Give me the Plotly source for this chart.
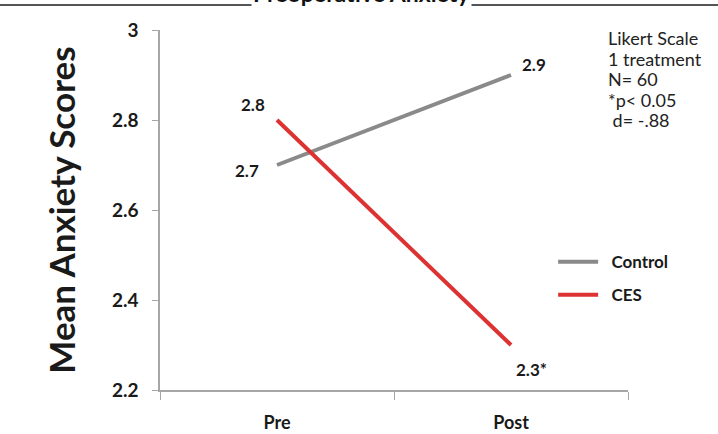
import plotly.graph_objects as go

categories = ["Pre", "Post"]
control_values = [2.7, 2.9]
ces_values = [2.8, 2.3]
control_labels = ["2.7", "2.9"]
ces_labels = ["2.8", "2.3*"]
y_ticks = [2.2, 2.4, 2.6, 2.8, 3.0]
y_tick_labels = ["2.2", "2.4", "2.6", "2.8", "3"]
notes = ["Likert Scale", "1 treatment", "N= 60", "*p< 0.05", " d= -.88"]

FONT = "Lato"
GRAY = "#8a8a8a"
RED = "#dd3232"
AXIS = "#a6a6a6"

fig = go.Figure()
fig.add_trace(go.Scatter(x=categories, y=control_values, mode="lines", name="\u00a0\u00a0Control",
                         legendgroup="a", line=dict(color=GRAY, width=4)))
fig.add_trace(go.Scatter(x=categories, y=ces_values, mode="lines", name="\u00a0\u00a0CES",
                         legendgroup="b", line=dict(color=RED, width=4)))

# data labels (offsets in pixels relative to each point)
lab_font = dict(family=FONT, size=17, color="#1a1a1a", weight="bold")
offsets_control = [(-30, 5), (23, -11)]
offsets_ces = [(-24, -16), (20, 24)]
for x, y, t, (dx, dy) in zip(categories, control_values, control_labels, offsets_control):
    fig.add_annotation(x=x, y=y, xref="x", yref="y", text=t, showarrow=False,
                       xshift=dx, yshift=-dy, font=lab_font)
for x, y, t, (dx, dy) in zip(categories, ces_values, ces_labels, offsets_ces):
    fig.add_annotation(x=x, y=y, xref="x", yref="y", text=t, showarrow=False,
                       xshift=dx, yshift=-dy, font=lab_font)

# notes block, one annotation per line
for i, line in enumerate(notes):
    fig.add_annotation(x=1.0, y=1.0, xref="paper", yref="paper", xanchor="left", yanchor="middle",
                       xshift=-22, yshift=-8 - 20.5 * i, text=line, showarrow=False, align="left",
                       font=dict(family=FONT, size=18, color="#222222"))

# cropped title and rule at top
fig.add_shape(type="line", xref="paper", yref="paper", x0=-0.3419, x1=1.1923,
              y0=1.0694, y1=1.0694, line=dict(color="#555555", width=2))
fig.add_annotation(x=0.4295, y=1.0694, xref="paper", yref="paper", xanchor="center",
                   yanchor="bottom", yshift=-4, text="Preoperative Anxiety", showarrow=False,
                   bgcolor="white", font=dict(family=FONT, size=23, color="#111111", weight="bold"))

fig.update_layout(
    width=718, height=434,
    margin=dict(l=160, r=90, t=30, b=44),
    paper_bgcolor="white", plot_bgcolor="white",
    showlegend=True,
    legend=dict(x=0.84, y=0.405, xanchor="left", yanchor="top", bgcolor="rgba(0,0,0,0)",
                font=dict(family=FONT, size=17, color="#1a1a1a", weight="bold"),
                itemwidth=40, tracegroupgap=8, traceorder="grouped"),
    xaxis=dict(type="category", range=[-0.5, 1.5], showline=True, linecolor=AXIS, linewidth=1.5,
               ticks="outside", tickson="boundaries", ticklen=8, tickcolor=AXIS,
               showgrid=False, zeroline=False, ticklabelstandoff=16, automargin=False,
               tickfont=dict(family=FONT, size=18, color="#1a1a1a", weight="bold")),
    yaxis=dict(range=[2.2, 3.0], tickvals=y_ticks, ticktext=y_tick_labels,
               showline=True, linecolor=AXIS, linewidth=1.5, ticks="outside", ticklen=6,
               tickcolor=AXIS, showgrid=False, zeroline=False, ticklabelstandoff=10,
               automargin=False,
               tickfont=dict(family=FONT, size=19, color="#1a1a1a", weight="bold"),
               title=dict(text="Mean Anxiety Scores", standoff=26,
                          font=dict(family=FONT, size=35, color="#1a1a1a", weight="bold"))),
)

fig.write_html("out.html", config={"displayModeBar": False},
               post_script="document.body.style.margin='0';document.body.style.padding='0';")
